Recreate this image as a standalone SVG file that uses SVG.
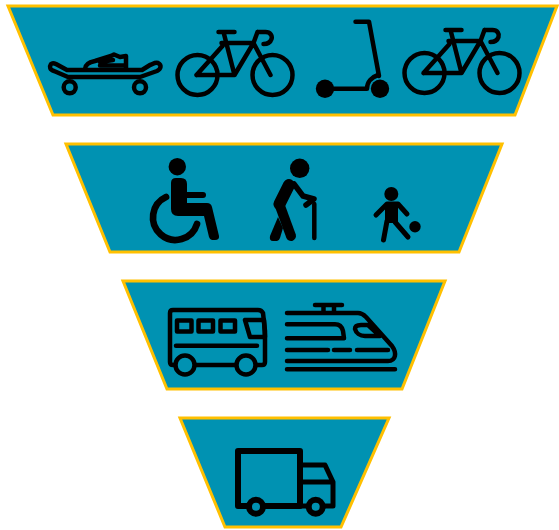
<svg xmlns="http://www.w3.org/2000/svg" width="559" height="530" viewBox="0 0 559 530">
<style>
.t{fill:#0092b2;stroke:#ffc000;stroke-width:3;stroke-linejoin:miter}
.l{fill:none;stroke:#000;stroke-width:4.500;stroke-linecap:round;stroke-linejoin:round}
.n{fill:none;stroke:#000;stroke-linecap:round;stroke-linejoin:round}
.f{fill:#000;stroke:none}
</style>
<defs>
<g id="bike">
<circle class="l" cx="0" cy="0" r="20"/>
<circle class="l" cx="75" cy="0" r="20"/>
<path class="l" d="M-1 0H37L56 -32M24 -32H56M26 -43L37 0M-1 0L25 -29M21 -43H37M60 -43H68C73 -43 75 -39 74 -36C73 -33 70 -31 66 -31M60 -43L56 -32L73 0"/>
</g>
</defs>
<g id="tier-1">
<path class="t" d="M8 6H557L515 115H53Z"/>
<g id="skateboard">
<path class="l" d="M51 64C49 67 50 70 54 71L68 77H140L157 71C161 69 162 65 158 63C155 62 153 64 150 65L142 70H67L56 64C54 63 52 63 51 64Z" stroke-width="4"/>
<circle class="l" cx="69.700" cy="87.300" r="6"/><circle class="l" cx="140" cy="87.300" r="6"/>
<path class="l" d="M85 69C85 64 90 62 95 61L111 56L114 54.500L120 57L126 56V69" stroke-width="3"/>
<path class="l" d="M100 65.500H125M100 62L113 60" stroke-width="2.500"/>
</g>
<use id="bike-1" href="#bike" x="197.500" y="75"/>
<g id="scooter">
<circle class="f" cx="325" cy="88.700" r="9.200"/><circle class="f" cx="380" cy="88.700" r="9.200"/>
<path class="l" d="M325 88.700H367C367 82 372 77 378 75" stroke-width="3.500"/>
<path class="l" d="M355.500 21.700H369L379 76"/>
</g>
<use id="bike-2" href="#bike" x="424.500" y="73"/>
</g>
<g id="tier-2">
<path class="t" d="M66 144H502L459 252H110Z"/>
<g id="wheelchair">
<circle class="f" cx="177.300" cy="166.700" r="8.700"/>
<path class="f" d="M171 183Q171 178 176 178H181Q187 178 187 184V203H207Q211 203 212 207L219 236Q219.500 240 215 240H212Q210 240 209 237L204 216H178Q171 216 171 209Z"/>
<path class="n" stroke-width="6" d="M187 195H203"/>
<path class="n" stroke-width="6.700" stroke-linecap="butt" d="M166 197A22.500 22.500 0 1 0 197 224"/>
</g>
<g id="elderly">
<circle class="f" cx="299.700" cy="168.300" r="9.700"/>
<path class="n" stroke-width="12" d="M289 185L279.500 204"/>
<path class="n" stroke-width="10" d="M280 206L291 236"/>
<path class="f" d="M278 217L270 236Q269 241 273 241H277Q279 241 280 238L283 228Z"/>
<path class="n" stroke-width="5.500" d="M294 184L303 196L314 199L306 205"/>
<path class="n" stroke-width="4.500" d="M314.300 204V238"/>
</g>
<g id="child">
<circle class="f" cx="391.300" cy="194" r="7"/>
<path class="n" stroke-width="5" d="M376 215L387 204H398L407 214"/>
<path class="f" d="M385 203H398V223H385Z"/>
<path class="n" stroke-width="5" d="M387 221L383.500 240M395 222L408 237"/>
<circle class="f" cx="415" cy="226.700" r="5.700"/>
</g>
</g>
<g id="tier-3">
<path class="t" d="M123 281H445L402 389H167Z"/>
<g id="bus">
<path class="l" d="M175 365H173C171 365 170 364 170 362V313C170 311 171 310 173 310H258C261 310 262 311 263 313L265 331V362C265 364 264 365 262 365H257M196 365H235"/>
<circle class="l" cx="185" cy="365" r="9.500"/><circle class="l" cx="246" cy="365" r="9.500"/>
<path class="l" d="M176 345.700H257M177 320.500H191.500V331.500H177ZM198.500 320.500H213V331.500H198.500ZM220.500 320.500H235V331.500H220.500ZM245 320H264L265 337H250Z" stroke-width="4"/>
</g>
<g id="train">
<path class="l" d="M287 313H358C362 313 364 315 366 317L392 346C397 353 396 361 388 361H287M287 324.300H335C340 324.300 342 327 343 331L344 338.300H287M361 325H368L380 336H365C360 336 356 333 355 329C355 326 357 325 361 325ZM287 350H328M334 350H350M357 350H388M287 369.300H395M315 305H342M323.500 305V313M334 305V313"/>
</g>
</g>
<g id="tier-4">
<path class="t" d="M180 418H389L341 527H225Z"/>
<g id="truck">
<path class="n" stroke-width="6" d="M247 506H238V451H300V506H265"/>
<path class="n" stroke-width="5" d="M302 465H325L333 482V506H324M306 506H298M302 482H333"/>
<circle class="n" stroke-width="6" cx="256" cy="506.700" r="7"/><circle class="n" stroke-width="6" cx="315.700" cy="506.700" r="7"/>
</g>
</g>
</svg>
